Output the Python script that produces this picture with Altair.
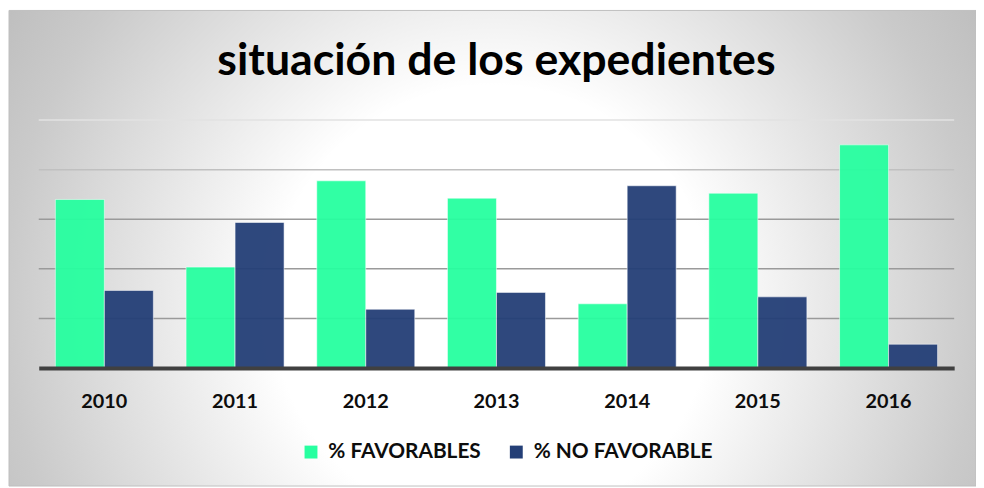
import altair as alt
import pandas as pd

years = ["2010", "2011", "2012", "2013", "2014", "2015", "2016"]
favorables = [68.0, 40.7, 75.5, 68.5, 25.9, 70.5, 90.0]
no_favorable = [31.3, 58.7, 23.7, 30.5, 73.5, 28.7, 9.6]
series = ["% FAVORABLES", "% NO FAVORABLE"]
colors = ["#27FFA0", "#243F77"]
grid_values = [20, 40, 60, 80, 100]

rows = []
for i, y in enumerate(years):
    rows.append({"year": y, "serie": series[0], "value": favorables[i]})
    rows.append({"year": y, "serie": series[1], "value": no_favorable[i]})
df = pd.DataFrame(rows)

W, H = 923, 250
PL, PT, PR, PB = 31, 111, 22, 119
FONT = "Lato"

bg = alt.Chart(pd.DataFrame({"a": [0]})).mark_rect(
    fill=alt.RadialGradient(
        gradient="radial",
        x1=0.5, y1=0.56, r1=0,
        x2=0.5, y2=0.56, r2=0.6,
        stops=[
            alt.GradientStop(offset=0, color="#ffffff"),
            alt.GradientStop(offset=0.38, color="#ffffff"),
            alt.GradientStop(offset=0.5, color="#f1f1f1"),
            alt.GradientStop(offset=0.84, color="#cacaca"),
            alt.GradientStop(offset=1, color="#bdbdbd"),
        ],
    ),
    stroke="#bfbfbf",
    strokeWidth=1,
).encode(
    x=alt.value(-PL + 1), x2=alt.value(W + PR),
    y=alt.value(-PT + 0.5), y2=alt.value(H + PB),
)

grid = alt.Chart(pd.DataFrame({"v": grid_values})).mark_rule(strokeWidth=1.5).encode(
    y=alt.Y("v:Q", scale=alt.Scale(domain=[0, 100]), axis=None),
    x=alt.value(0),
    x2=alt.value(W),
    color={"condition": [{"test": "datum.v >= 100", "value": "#e2e2e2"},
                         {"test": "datum.v >= 80", "value": "#c0c0c0"}],
           "value": "#9a9a9a"},
)

bars = alt.Chart(df).mark_bar(
    opacity=0.95, stroke="#ffffff", strokeOpacity=0.55, strokeWidth=1
).encode(
    x=alt.X("year:N", sort=years,
            scale=alt.Scale(paddingInner=0.25, paddingOuter=0.127),
            axis=alt.Axis(title=None, labelAngle=0, ticks=False, domain=True,
                          domainColor="#404040", domainWidth=4, labelPadding=34,
                          labelBaseline="middle", labelFont=FONT, labelFontSize=20,
                          labelFontWeight="bold", labelColor="#0d0d0d", zindex=2)),
    xOffset=alt.XOffset("serie:N", sort=series, scale=alt.Scale(paddingInner=0, paddingOuter=0)),
    y=alt.Y("value:Q", scale=alt.Scale(domain=[0, 100]), axis=None),
    color=alt.Color("serie:N", sort=series,
                    scale=alt.Scale(domain=series, range=colors),
                    legend=alt.Legend(title=None, orient="none", direction="horizontal",
                                      legendX=264, legendY=324, padding=0,
                                      symbolType="square", symbolSize=169,
                                      symbolStrokeWidth=0, symbolOpacity=1,
                                      labelFont=FONT, labelFontSize=21, labelFontWeight="bold",
                                      labelColor="#0d0d0d", labelOffset=7, columnPadding=25,
                                      labelLimit=400)),
)

chart = alt.layer(bg, grid, bars).properties(
    width=W, height=H,
    padding={"left": PL, "top": PT, "right": PR, "bottom": PB},
    autosize=alt.AutoSizeParams(type="none"),
    title=alt.TitleParams("situación de los expedientes", font=FONT, fontSize=45,
                          fontWeight="bold", color="#000000", anchor="middle",
                          frame="group", baseline="alphabetic", offset=0, dy=111),
).configure_view(stroke=None)

chart.save("out.html", embed_options={"renderer": "svg", "actions": False})
